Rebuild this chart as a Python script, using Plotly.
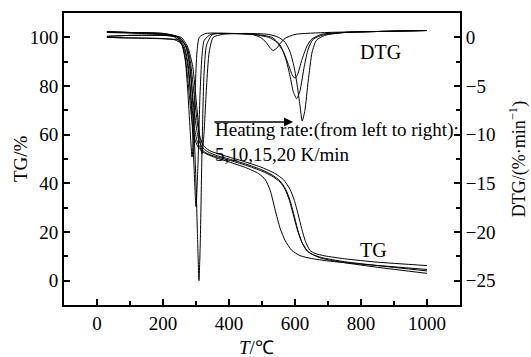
import plotly.graph_objects as go

# ---------------- data ----------------
rates = ["5 K/min", "10 K/min", "15 K/min", "20 K/min"]

tg5_T = [30, 80, 150, 200, 230, 250, 260, 268, 275, 282, 290, 298, 308, 325, 360, 400, 450, 490, 510, 525, 540, 555, 570, 590, 615, 650, 700, 800, 900, 1000]
tg5_v = [102, 102, 101.8, 101.3, 100.5, 98.5, 96, 91, 83, 73, 63, 57.5, 54.5, 52.5, 50.5, 48.8, 46.5, 44, 41.5, 37, 29, 21.5, 16.5, 12.5, 10.3, 9.1, 8.1, 6.8, 5.7, 4.6]

tg10_T = [30, 80, 150, 200, 235, 255, 265, 273, 280, 287, 295, 303, 313, 330, 360, 400, 450, 500, 530, 555, 570, 583, 595, 607, 620, 635, 650, 680, 750, 850, 1000]
tg10_v = [100, 99.8, 99.7, 99.5, 99, 97.5, 95, 90, 82, 72, 63, 57.5, 54.5, 52.5, 51, 49.5, 47.5, 45, 43, 40.5, 37.5, 33, 27, 21, 16, 12.5, 11, 9.5, 7.8, 6.2, 4.0]

tg15_T = [30, 80, 150, 200, 240, 260, 270, 278, 285, 292, 300, 308, 318, 335, 365, 400, 450, 500, 530, 555, 572, 585, 597, 609, 622, 637, 652, 680, 750, 850, 1000]
tg15_v = [102, 101.8, 101.5, 101, 100.3, 98.5, 96, 91, 83, 73, 64, 58, 55, 53, 51.3, 50, 48, 45.5, 43.5, 41, 37.5, 33, 27, 20.5, 15.5, 12.3, 10.8, 9.2, 7.4, 5.5, 3.0]

tg20_T = [30, 80, 150, 200, 245, 265, 275, 283, 290, 297, 305, 313, 323, 340, 370, 400, 450, 500, 540, 565, 585, 598, 610, 620, 632, 645, 660, 690, 750, 850, 1000]
tg20_v = [100, 99.8, 99.6, 99.4, 99, 97.5, 95, 90, 82, 73, 64, 58.5, 55.5, 53.5, 52, 50.8, 48.8, 46.5, 44, 41.5, 37.5, 33, 27, 21.5, 16, 12.5, 11.2, 10.2, 9, 7.6, 6.2]

dtg5_T = [30, 100, 200, 240, 258, 268, 276, 283, 288, 293, 298, 303, 310, 330, 400, 470, 495, 512, 525, 534, 545, 556, 570, 600, 700, 850, 1000]
dtg5_v = [0.6, 0.5, 0.4, 0.1, -0.8, -2.5, -6, -10, -12.3, -10, -5, -1.5, 0, 0.4, 0.4, 0.3, 0.0, -0.5, -1.1, -1.35, -1.1, -0.6, -0.1, 0.3, 0.5, 0.6, 0.7]

dtg10_T = [30, 100, 200, 245, 265, 277, 286, 293, 300, 306, 312, 318, 325, 345, 400, 470, 520, 545, 565, 580, 592, 600, 608, 620, 635, 650, 680, 750, 850, 1000]
dtg10_v = [0.1, 0.2, 0.2, 0, -1, -3, -7, -12.5, -17.4, -13, -6, -2, -0.3, 0.3, 0.4, 0.3, 0, -0.5, -1.5, -2.8, -3.9, -4.2, -3.8, -2.4, -1, -0.2, 0.3, 0.5, 0.6, 0.7]

dtg15_T = [30, 100, 200, 250, 270, 282, 292, 300, 305, 309, 313, 318, 324, 332, 350, 400, 480, 530, 555, 572, 585, 595, 605, 615, 628, 640, 655, 690, 750, 850, 1000]
dtg15_v = [0.6, 0.5, 0.4, 0, -1, -3, -8, -15, -21, -25, -21, -12, -4, -0.8, 0.3, 0.4, 0.3, 0, -0.8, -2.2, -4, -5.6, -6.3, -5.5, -3, -1.2, -0.2, 0.3, 0.5, 0.6, 0.7]

dtg20_T = [30, 100, 200, 255, 275, 290, 302, 312, 318, 324, 332, 340, 352, 380, 450, 520, 550, 570, 585, 597, 607, 615, 622, 630, 640, 652, 665, 690, 750, 850, 1000]
dtg20_v = [0.1, 0.2, 0.2, 0, -1, -3, -7, -10.5, -12, -10, -5, -1.5, 0, 0.3, 0.4, 0.3, 0, -0.5, -1.5, -3, -5, -7, -8.6, -7.5, -4.5, -1.5, -0.3, 0.2, 0.5, 0.6, 0.7]

x_ticks = [0, 200, 400, 600, 800, 1000]
tg_ticks = [0, 20, 40, 60, 80, 100]
dtg_ticks = [-25, -20, -15, -10, -5, 0]

# ---------------- figure ----------------
FONT = "Liberation Serif, Times New Roman, serif"
fig = go.Figure()

line = dict(color="black", width=1, shape="spline", smoothing=0.6)
for T, v, r in [(tg5_T, tg5_v, rates[0]), (tg10_T, tg10_v, rates[1]),
                (tg15_T, tg15_v, rates[2]), (tg20_T, tg20_v, rates[3])]:
    fig.add_trace(go.Scatter(x=T, y=v, mode="lines", line=line, name="TG " + r, yaxis="y"))
for T, v, r in [(dtg5_T, dtg5_v, rates[0]), (dtg10_T, dtg10_v, rates[1]),
                (dtg15_T, dtg15_v, rates[2]), (dtg20_T, dtg20_v, rates[3])]:
    fig.add_trace(go.Scatter(x=T, y=v, mode="lines", line=line, name="DTG " + r, yaxis="y2"))

axis_common = dict(showline=True, linecolor="black", linewidth=2, ticks="inside",
                   ticklen=6, tickwidth=1.5, tickcolor="black", showgrid=False,
                   zeroline=False, automargin=False,
                   tickfont=dict(family=FONT, size=19, color="black"))

fig.update_layout(
    width=531, height=357,
    margin=dict(l=64, r=71, t=13, b=52),
    paper_bgcolor="white", plot_bgcolor="white",
    showlegend=False,
    font=dict(family=FONT, size=19, color="black"),
    xaxis=dict(range=[-100, 1100], tickvals=x_ticks, mirror=True,
               minor=dict(dtick=100, ticks="inside", ticklen=4, tickcolor="black", tickwidth=1.5),
               **axis_common),
    yaxis=dict(range=[-10, 110], tickvals=tg_ticks,
               minor=dict(dtick=10, ticks="inside", ticklen=4, tickcolor="black", tickwidth=1.5),
               **axis_common),
    yaxis2=dict(range=[-27.5, 2.5], tickvals=dtg_ticks, overlaying="y", side="right",
                minor=dict(dtick=2.5, ticks="inside", ticklen=4, tickcolor="black", tickwidth=1.5),
                **axis_common),
)

ann = [
    dict(text="<i>T</i>/℃", xref="paper", yref="paper", x=0.485, y=-0.147,
         xanchor="center", yanchor="middle", showarrow=False, font=dict(size=19)),
    dict(text="TG/%", xref="paper", yref="paper", x=-0.111, y=0.5, textangle=-90,
         xanchor="center", yanchor="middle", showarrow=False, font=dict(size=19)),
    dict(text="DTG/(%·min<sup>−1</sup>)", xref="paper", yref="paper", x=1.147, y=0.5, textangle=-90,
         xanchor="center", yanchor="middle", showarrow=False, font=dict(size=18)),
    dict(text="DTG", x=858, y=94, xref="x", yref="y", showarrow=False, font=dict(size=20)),
    dict(text="TG", x=839, y=12.7, xref="x", yref="y", showarrow=False, font=dict(size=20)),
    dict(text="Heating rate:(from left to right):<br>5,10,15,20 K/min", x=351, y=56.8,
         xref="x", yref="y", xanchor="left", yanchor="middle", align="left", showarrow=False,
         font=dict(size=19)),
    dict(text="", x=594, y=65.2, ax=351, ay=65.2, xref="x", yref="y", axref="x", ayref="y",
         showarrow=True, arrowhead=2, arrowsize=1.2, arrowwidth=1.5, arrowcolor="black"),
]
fig.update_layout(annotations=ann)

fig.write_html("out.html", post_script="document.body.style.margin='0';",
               config={"displayModeBar": False})
